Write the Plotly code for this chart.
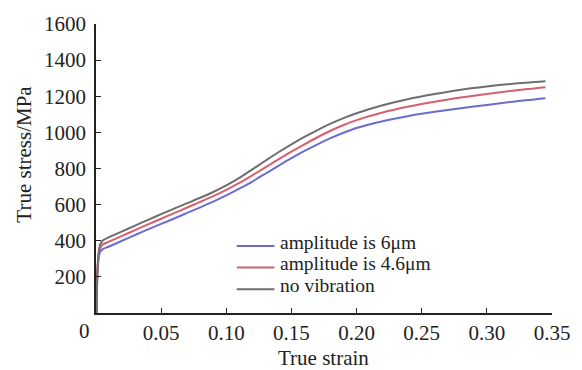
import plotly.graph_objects as go

strain = [0.0005, 0.001, 0.002, 0.003, 0.005, 0.01, 0.02, 0.03, 0.04, 0.05, 0.06, 0.07,
          0.08, 0.09, 0.10, 0.11, 0.12, 0.13, 0.14, 0.15, 0.16, 0.17, 0.18, 0.19,
          0.20, 0.22, 0.24, 0.26, 0.28, 0.30, 0.32, 0.345]

stress_6um = [0, 200, 300, 335, 352, 368, 400, 432, 463, 493, 523, 554, 585, 617, 651,
              688, 728, 771, 815, 857, 897, 934, 968, 998, 1024, 1062, 1091, 1114,
              1134, 1152, 1170, 1189]
stress_46um = [0, 210, 315, 355, 378, 395, 427, 459, 491, 522, 553, 584, 615, 647, 682,
               720, 762, 806, 850, 893, 934, 973, 1009, 1041, 1068, 1110, 1143, 1170,
               1193, 1213, 1231, 1250]
stress_novib = [0, 220, 335, 375, 400, 420, 452, 484, 516, 547, 578, 608, 638, 670, 706,
                748, 795, 843, 890, 934, 975, 1013, 1048, 1079, 1106, 1150, 1185, 1212,
                1236, 1254, 1269, 1283]

names = ["amplitude is 6μm", "amplitude is 4.6μm", "no vibration"]
colors = ["#6a6cd2", "#d6606e", "#6e6e6e"]
series = [stress_6um, stress_46um, stress_novib]

x_ticks = [0.05, 0.10, 0.15, 0.20, 0.25, 0.30, 0.35]
x_tick_labels = ["0.05", "0.10", "0.15", "0.20", "0.25", "0.30", "0.35"]
y_ticks = [200, 400, 600, 800, 1000, 1200, 1400, 1600]

FONT = "Liberation Serif, Times New Roman, serif"
FS = 21
LEG_FS = 19.5
TXT = "#222222"

fig = go.Figure()
for name, col, ys in zip(names, colors, series):
    fig.add_trace(go.Scatter(x=strain, y=ys, mode="lines", name=name,
                             line=dict(color=col, width=2, shape="spline", smoothing=0.8),
                             showlegend=False))

fig.update_layout(
    width=582, height=370,
    margin=dict(l=96, r=26, t=24, b=57),
    paper_bgcolor="white", plot_bgcolor="white",
    font=dict(family=FONT, size=FS, color=TXT),
    showlegend=False,
)

def px_to_yfrac(py):
    return (313 - py) / (313 - 24)

def px_to_xfrac(px):
    return (px - 96) / (556 - 96)

# manual legend (tight row spacing as in the reference)
leg_y = [242, 263.6, 285.2]
for i, (name, col) in enumerate(zip(names, colors)):
    ly = leg_y[i]
    fig.add_shape(type="line", xref="paper", yref="paper",
                  x0=px_to_xfrac(238), x1=px_to_xfrac(276),
                  y0=px_to_yfrac(ly + 4), y1=px_to_yfrac(ly + 4),
                  line=dict(color=col, width=2))
    fig.add_annotation(xref="paper", yref="paper", x=px_to_xfrac(280), y=px_to_yfrac(ly),
                       text=name, showarrow=False, xanchor="left", yanchor="middle",
                       font=dict(family=FONT, size=LEG_FS, color=TXT))

fig.update_xaxes(range=[0, 0.35], tickvals=x_ticks, ticktext=x_tick_labels,
                 ticks="inside", ticklen=5, tickwidth=1.3, tickcolor=TXT,
                 showline=True, linecolor=TXT, linewidth=1.5,
                 showgrid=False, zeroline=False, tickfont=dict(size=FS))
fig.update_yaxes(range=[0, 1600], tickvals=y_ticks,
                 ticks="inside", ticklen=5, tickwidth=1.3, tickcolor=TXT,
                 showline=True, linecolor=TXT, linewidth=1.5,
                 showgrid=False, zeroline=False, ticklabelstandoff=4,
                 tickfont=dict(size=FS))

# origin label, axis titles
fig.add_annotation(xref="paper", yref="paper", x=px_to_xfrac(84), y=px_to_yfrac(331),
                   text="0", showarrow=False, xanchor="center", yanchor="middle",
                   font=dict(family=FONT, size=FS, color=TXT))
fig.add_annotation(xref="paper", yref="paper", x=px_to_xfrac(325), y=px_to_yfrac(358),
                   text="True strain", showarrow=False, xanchor="center", yanchor="middle",
                   font=dict(family=FONT, size=FS, color=TXT))
fig.add_annotation(xref="paper", yref="paper", x=px_to_xfrac(23), y=px_to_yfrac(154),
                   text="True stress/MPa", showarrow=False, textangle=-90,
                   xanchor="center", yanchor="middle",
                   font=dict(family=FONT, size=FS, color=TXT))

fig.write_html("out.html")
